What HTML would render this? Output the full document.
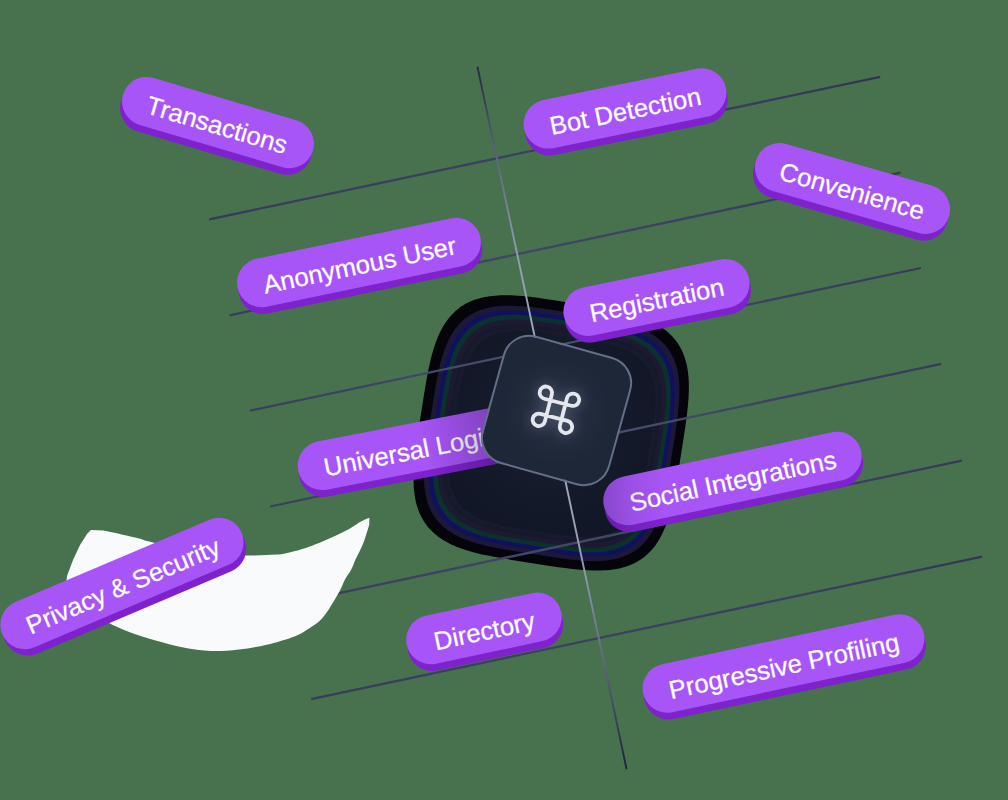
<!DOCTYPE html>
<html><head><meta charset="utf-8"><style>
html,body{margin:0;padding:0;}
body{width:1008px;height:800px;overflow:hidden;background:#48724e;position:relative;font-family:"Liberation Sans",sans-serif;}
svg.layer{position:absolute;left:0;top:0;}
.pill{position:absolute;height:49px;line-height:54px;border-radius:24.5px;background:#a855f7;color:#fff;font-size:25.6px;text-align:center;white-space:nowrap;box-shadow:0 7px 0 #7e22ce;-webkit-text-stroke:0.25px #fff;transform-origin:50% 50%;}
.pill.ul::after,.pill.si::after{content:'';position:absolute;left:0;top:0;right:0;bottom:-7px;border-radius:24.5px;}
.pill.ul::after{background:linear-gradient(90deg,rgba(14,14,34,0) 55%,rgba(14,14,34,0.2) 80%,rgba(14,14,34,0.4) 100%);}
.pill.si::after{background:linear-gradient(100deg,rgba(14,14,34,0.22) 0,rgba(14,14,34,0.08) 12%,rgba(14,14,34,0) 25%);}
.box{position:absolute;left:490.1px;top:343.5px;width:133px;height:133px;border-radius:27px;box-sizing:border-box;border:2px solid #647088;background:radial-gradient(circle at 50% 50%, #2c3547 0, #232c3d 30%, #1e2738 60%);transform:rotate(15.5deg);}
</style></head><body>
<svg class="layer" width="1008" height="800" viewBox="0 0 1008 800">
<defs>
<radialGradient id="blobg" cx="553" cy="420" r="130" gradientUnits="userSpaceOnUse"><stop offset="0" stop-color="#1c2334"/><stop offset="0.55" stop-color="#141a2a"/><stop offset="1" stop-color="#111626"/></radialGradient>
<radialGradient id="lg" cx="556" cy="410" r="520" gradientUnits="userSpaceOnUse"><stop offset="0" stop-color="#4a5270"/><stop offset="0.2" stop-color="#444c6a"/><stop offset="0.35" stop-color="#3c4462"/><stop offset="0.7" stop-color="#373d5a"/><stop offset="1" stop-color="#2c3049"/></radialGradient>
<radialGradient id="lv" cx="556" cy="410" r="370" gradientUnits="userSpaceOnUse"><stop offset="0" stop-color="#b0b5c5"/><stop offset="0.45" stop-color="#9098b0"/><stop offset="0.72" stop-color="#5a6078"/><stop offset="1" stop-color="#1a1e34"/></radialGradient>
</defs>
<path d="M681.22,453.26 L678.20,472.37 L676.81,480.77 L675.67,487.29 L674.64,492.81 L673.66,497.69 L672.70,502.10 L671.75,506.15 L670.80,509.91 L669.84,513.42 L668.87,516.72 L667.87,519.85 L666.85,522.80 L665.81,525.62 L664.73,528.30 L663.63,530.85 L662.49,533.29 L661.32,535.63 L660.12,537.86 L658.88,540.00 L657.60,542.05 L656.28,544.01 L654.93,545.89 L653.54,547.69 L652.10,549.41 L650.62,551.05 L649.10,552.62 L647.54,554.12 L645.93,555.55 L644.27,556.91 L642.57,558.20 L640.82,559.43 L639.02,560.59 L637.17,561.68 L635.26,562.71 L633.30,563.68 L631.28,564.59 L629.21,565.43 L627.07,566.20 L624.87,566.92 L622.60,567.57 L620.26,568.16 L617.84,568.69 L615.35,569.15 L612.77,569.55 L610.09,569.89 L607.32,570.16 L604.44,570.36 L601.45,570.50 L598.32,570.57 L595.04,570.56 L591.60,570.48 L587.96,570.32 L584.09,570.08 L579.95,569.74 L575.45,569.30 L570.51,568.74 L564.93,568.04 L558.38,567.13 L549.96,565.89 L530.84,562.92 L511.73,559.90 L503.33,558.51 L496.81,557.37 L491.29,556.34 L486.41,555.36 L482.00,554.40 L477.95,553.45 L474.19,552.50 L470.68,551.54 L467.38,550.57 L464.25,549.57 L461.30,548.55 L458.48,547.51 L455.80,546.43 L453.25,545.33 L450.81,544.19 L448.47,543.02 L446.24,541.82 L444.10,540.58 L442.05,539.30 L440.09,537.98 L438.21,536.63 L436.41,535.24 L434.69,533.80 L433.05,532.32 L431.48,530.80 L429.98,529.24 L428.55,527.63 L427.19,525.97 L425.90,524.27 L424.67,522.52 L423.51,520.72 L422.42,518.87 L421.39,516.96 L420.42,515.00 L419.51,512.98 L418.67,510.91 L417.90,508.77 L417.18,506.57 L416.53,504.30 L415.94,501.96 L415.41,499.54 L414.95,497.05 L414.55,494.47 L414.21,491.79 L413.94,489.02 L413.74,486.14 L413.60,483.15 L413.53,480.02 L413.54,476.74 L413.62,473.30 L413.78,469.66 L414.02,465.79 L414.36,461.65 L414.80,457.15 L415.36,452.21 L416.06,446.63 L416.97,440.08 L418.21,431.66 L421.18,412.54 L424.20,393.43 L425.59,385.03 L426.73,378.51 L427.76,372.99 L428.74,368.11 L429.70,363.70 L430.65,359.65 L431.60,355.89 L432.56,352.38 L433.53,349.08 L434.53,345.95 L435.55,343.00 L436.59,340.18 L437.67,337.50 L438.77,334.95 L439.91,332.51 L441.08,330.17 L442.28,327.94 L443.52,325.80 L444.80,323.75 L446.12,321.79 L447.47,319.91 L448.86,318.11 L450.30,316.39 L451.78,314.75 L453.30,313.18 L454.86,311.68 L456.47,310.25 L458.13,308.89 L459.83,307.60 L461.58,306.37 L463.38,305.21 L465.23,304.12 L467.14,303.09 L469.10,302.12 L471.12,301.21 L473.19,300.37 L475.33,299.60 L477.53,298.88 L479.80,298.23 L482.14,297.64 L484.56,297.11 L487.05,296.65 L489.63,296.25 L492.31,295.91 L495.08,295.64 L497.96,295.44 L500.95,295.30 L504.08,295.23 L507.36,295.24 L510.80,295.32 L514.44,295.48 L518.31,295.72 L522.45,296.06 L526.95,296.50 L531.89,297.06 L537.47,297.76 L544.02,298.67 L552.44,299.91 L571.56,302.88 L590.67,305.90 L599.07,307.29 L605.59,308.43 L611.11,309.46 L615.99,310.44 L620.40,311.40 L624.45,312.35 L628.21,313.30 L631.72,314.26 L635.02,315.23 L638.15,316.23 L641.10,317.25 L643.92,318.29 L646.60,319.37 L649.15,320.47 L651.59,321.61 L653.93,322.78 L656.16,323.98 L658.30,325.22 L660.35,326.50 L662.31,327.82 L664.19,329.17 L665.99,330.56 L667.71,332.00 L669.35,333.48 L670.92,335.00 L672.42,336.56 L673.85,338.17 L675.21,339.83 L676.50,341.53 L677.73,343.28 L678.89,345.08 L679.98,346.93 L681.01,348.84 L681.98,350.80 L682.89,352.82 L683.73,354.89 L684.50,357.03 L685.22,359.23 L685.87,361.50 L686.46,363.84 L686.99,366.26 L687.45,368.75 L687.85,371.33 L688.19,374.01 L688.46,376.78 L688.66,379.66 L688.80,382.65 L688.87,385.78 L688.86,389.06 L688.78,392.50 L688.62,396.14 L688.38,400.01 L688.04,404.15 L687.60,408.65 L687.04,413.59 L686.34,419.17 L685.43,425.72 L684.19,434.14Z" fill="#04040a"/><path d="M672.33,452.29 L669.53,470.02 L668.24,477.81 L667.19,483.86 L666.23,488.99 L665.32,493.51 L664.43,497.61 L663.55,501.36 L662.67,504.85 L661.78,508.11 L660.87,511.17 L659.95,514.07 L659.00,516.81 L658.03,519.42 L657.04,521.91 L656.01,524.28 L654.96,526.55 L653.87,528.71 L652.75,530.78 L651.60,532.77 L650.42,534.67 L649.20,536.49 L647.94,538.23 L646.65,539.90 L645.32,541.50 L643.95,543.02 L642.54,544.48 L641.08,545.87 L639.59,547.20 L638.06,548.46 L636.48,549.66 L634.85,550.79 L633.18,551.87 L631.46,552.89 L629.69,553.84 L627.87,554.74 L626.00,555.58 L624.08,556.36 L622.09,557.08 L620.05,557.74 L617.94,558.35 L615.77,558.90 L613.53,559.39 L611.22,559.82 L608.82,560.19 L606.34,560.50 L603.77,560.75 L601.10,560.94 L598.32,561.07 L595.42,561.13 L592.38,561.12 L589.18,561.05 L585.81,560.90 L582.22,560.67 L578.37,560.36 L574.20,559.95 L569.61,559.44 L564.44,558.78 L558.36,557.94 L550.55,556.79 L532.81,554.03 L515.08,551.23 L507.29,549.94 L501.24,548.89 L496.11,547.93 L491.59,547.02 L487.49,546.13 L483.74,545.25 L480.25,544.37 L476.99,543.48 L473.93,542.57 L471.03,541.65 L468.29,540.70 L465.68,539.73 L463.19,538.74 L460.82,537.71 L458.55,536.66 L456.39,535.57 L454.32,534.45 L452.33,533.30 L450.43,532.12 L448.61,530.90 L446.87,529.64 L445.20,528.35 L443.60,527.02 L442.08,525.65 L440.62,524.24 L439.23,522.78 L437.90,521.29 L436.64,519.76 L435.44,518.18 L434.31,516.55 L433.23,514.88 L432.21,513.16 L431.26,511.39 L430.36,509.57 L429.52,507.70 L428.74,505.78 L428.02,503.79 L427.36,501.75 L426.75,499.64 L426.20,497.47 L425.71,495.23 L425.28,492.92 L424.91,490.52 L424.60,488.04 L424.35,485.47 L424.16,482.80 L424.03,480.02 L423.97,477.12 L423.98,474.08 L424.05,470.88 L424.20,467.51 L424.43,463.92 L424.74,460.07 L425.15,455.90 L425.66,451.31 L426.32,446.14 L427.16,440.06 L428.31,432.25 L431.07,414.51 L433.87,396.78 L435.16,388.99 L436.21,382.94 L437.17,377.81 L438.08,373.29 L438.97,369.19 L439.85,365.44 L440.73,361.95 L441.62,358.69 L442.53,355.63 L443.45,352.73 L444.40,349.99 L445.37,347.38 L446.36,344.89 L447.39,342.52 L448.44,340.25 L449.53,338.09 L450.65,336.02 L451.80,334.03 L452.98,332.13 L454.20,330.31 L455.46,328.57 L456.75,326.90 L458.08,325.30 L459.45,323.78 L460.86,322.32 L462.32,320.93 L463.81,319.60 L465.34,318.34 L466.92,317.14 L468.55,316.01 L470.22,314.93 L471.94,313.91 L473.71,312.96 L475.53,312.06 L477.40,311.22 L479.32,310.44 L481.31,309.72 L483.35,309.06 L485.46,308.45 L487.63,307.90 L489.87,307.41 L492.18,306.98 L494.58,306.61 L497.06,306.30 L499.63,306.05 L502.30,305.86 L505.08,305.73 L507.98,305.67 L511.02,305.68 L514.22,305.75 L517.59,305.90 L521.18,306.13 L525.03,306.44 L529.20,306.85 L533.79,307.36 L538.96,308.02 L545.04,308.86 L552.85,310.01 L570.59,312.77 L588.32,315.57 L596.11,316.86 L602.16,317.91 L607.29,318.87 L611.81,319.78 L615.91,320.67 L619.66,321.55 L623.15,322.43 L626.41,323.32 L629.47,324.23 L632.37,325.15 L635.11,326.10 L637.72,327.07 L640.21,328.06 L642.58,329.09 L644.85,330.14 L647.01,331.23 L649.08,332.35 L651.07,333.50 L652.97,334.68 L654.79,335.90 L656.53,337.16 L658.20,338.45 L659.80,339.78 L661.32,341.15 L662.78,342.56 L664.17,344.02 L665.50,345.51 L666.76,347.04 L667.96,348.62 L669.09,350.25 L670.17,351.92 L671.19,353.64 L672.14,355.41 L673.04,357.23 L673.88,359.10 L674.66,361.02 L675.38,363.01 L676.04,365.05 L676.65,367.16 L677.20,369.33 L677.69,371.57 L678.12,373.88 L678.49,376.28 L678.80,378.76 L679.05,381.33 L679.24,384.00 L679.37,386.78 L679.43,389.68 L679.42,392.72 L679.35,395.92 L679.20,399.29 L678.97,402.88 L678.66,406.73 L678.25,410.90 L677.74,415.49 L677.08,420.66 L676.24,426.74 L675.09,434.55Z" fill="#1c1838"/><path d="M667.98,451.69 L665.29,468.77 L664.05,476.27 L663.03,482.10 L662.11,487.04 L661.23,491.40 L660.38,495.34 L659.53,498.96 L658.68,502.32 L657.82,505.45 L656.95,508.41 L656.06,511.20 L655.15,513.84 L654.22,516.35 L653.26,518.75 L652.27,521.03 L651.25,523.21 L650.21,525.30 L649.13,527.30 L648.02,529.21 L646.88,531.04 L645.70,532.79 L644.49,534.47 L643.25,536.07 L641.97,537.61 L640.65,539.08 L639.29,540.49 L637.89,541.82 L636.45,543.10 L634.97,544.32 L633.45,545.47 L631.89,546.57 L630.28,547.60 L628.62,548.58 L626.92,549.50 L625.17,550.37 L623.36,551.18 L621.51,551.93 L619.60,552.62 L617.63,553.26 L615.60,553.85 L613.51,554.37 L611.35,554.84 L609.12,555.26 L606.82,555.62 L604.43,555.92 L601.95,556.16 L599.38,556.34 L596.70,556.46 L593.91,556.52 L590.98,556.52 L587.90,556.44 L584.65,556.30 L581.19,556.08 L577.49,555.78 L573.47,555.39 L569.05,554.89 L564.07,554.26 L558.21,553.45 L550.69,552.34 L533.61,549.68 L516.53,546.99 L509.03,545.75 L503.20,544.73 L498.26,543.81 L493.90,542.93 L489.96,542.08 L486.34,541.23 L482.98,540.38 L479.85,539.52 L476.89,538.65 L474.10,537.76 L471.46,536.85 L468.95,535.92 L466.55,534.96 L464.27,533.97 L462.09,532.95 L460.00,531.91 L458.00,530.83 L456.09,529.72 L454.26,528.58 L452.51,527.40 L450.83,526.19 L449.23,524.95 L447.69,523.67 L446.22,522.35 L444.81,520.99 L443.48,519.59 L442.20,518.15 L440.98,516.67 L439.83,515.15 L438.73,513.59 L437.70,511.98 L436.72,510.32 L435.80,508.62 L434.93,506.87 L434.12,505.06 L433.37,503.21 L432.68,501.30 L432.04,499.33 L431.45,497.30 L430.93,495.21 L430.46,493.05 L430.04,490.82 L429.68,488.52 L429.38,486.13 L429.14,483.65 L428.96,481.08 L428.84,478.40 L428.78,475.61 L428.78,472.68 L428.86,469.60 L429.00,466.35 L429.22,462.89 L429.52,459.19 L429.91,455.17 L430.41,450.75 L431.04,445.77 L431.85,439.91 L432.96,432.39 L435.62,415.31 L438.31,398.23 L439.55,390.73 L440.57,384.90 L441.49,379.96 L442.37,375.60 L443.22,371.66 L444.07,368.04 L444.92,364.68 L445.78,361.55 L446.65,358.59 L447.54,355.80 L448.45,353.16 L449.38,350.65 L450.34,348.25 L451.33,345.97 L452.35,343.79 L453.39,341.70 L454.47,339.70 L455.58,337.79 L456.72,335.96 L457.90,334.21 L459.11,332.53 L460.35,330.93 L461.63,329.39 L462.95,327.92 L464.31,326.51 L465.71,325.18 L467.15,323.90 L468.63,322.68 L470.15,321.53 L471.71,320.43 L473.32,319.40 L474.98,318.42 L476.68,317.50 L478.43,316.63 L480.24,315.82 L482.09,315.07 L484.00,314.38 L485.97,313.74 L488.00,313.15 L490.09,312.63 L492.25,312.16 L494.48,311.74 L496.78,311.38 L499.17,311.08 L501.65,310.84 L504.22,310.66 L506.90,310.54 L509.69,310.48 L512.62,310.48 L515.70,310.56 L518.95,310.70 L522.41,310.92 L526.11,311.22 L530.13,311.61 L534.55,312.11 L539.53,312.74 L545.39,313.55 L552.91,314.66 L569.99,317.32 L587.07,320.01 L594.57,321.25 L600.40,322.27 L605.34,323.19 L609.70,324.07 L613.64,324.92 L617.26,325.77 L620.62,326.62 L623.75,327.48 L626.71,328.35 L629.50,329.24 L632.14,330.15 L634.65,331.08 L637.05,332.04 L639.33,333.03 L641.51,334.05 L643.60,335.09 L645.60,336.17 L647.51,337.28 L649.34,338.42 L651.09,339.60 L652.77,340.81 L654.37,342.05 L655.91,343.33 L657.38,344.65 L658.79,346.01 L660.12,347.41 L661.40,348.85 L662.62,350.33 L663.77,351.85 L664.87,353.41 L665.90,355.02 L666.88,356.68 L667.80,358.38 L668.67,360.13 L669.48,361.94 L670.23,363.79 L670.92,365.70 L671.56,367.67 L672.15,369.70 L672.67,371.79 L673.14,373.95 L673.56,376.18 L673.92,378.48 L674.22,380.87 L674.46,383.35 L674.64,385.92 L674.76,388.60 L674.82,391.39 L674.82,394.32 L674.74,397.40 L674.60,400.65 L674.38,404.11 L674.08,407.81 L673.69,411.83 L673.19,416.25 L672.56,421.23 L671.75,427.09 L670.64,434.61Z" fill="#11105f"/><path d="M664.13,451.18 L661.53,467.67 L660.33,474.92 L659.35,480.55 L658.45,485.32 L657.61,489.53 L656.78,493.34 L655.97,496.83 L655.15,500.07 L654.32,503.11 L653.47,505.96 L652.61,508.65 L651.73,511.21 L650.83,513.63 L649.90,515.95 L648.95,518.15 L647.97,520.26 L646.96,522.28 L645.92,524.20 L644.85,526.05 L643.75,527.82 L642.61,529.51 L641.44,531.13 L640.24,532.69 L639.00,534.17 L637.72,535.59 L636.41,536.95 L635.06,538.24 L633.67,539.47 L632.24,540.65 L630.77,541.76 L629.26,542.82 L627.71,543.82 L626.11,544.77 L624.46,545.66 L622.77,546.49 L621.03,547.27 L619.24,548.00 L617.39,548.67 L615.49,549.29 L613.53,549.85 L611.51,550.36 L609.43,550.82 L607.27,551.22 L605.04,551.56 L602.74,551.85 L600.35,552.09 L597.86,552.26 L595.27,552.38 L592.57,552.44 L589.74,552.43 L586.77,552.36 L583.63,552.22 L580.29,552.01 L576.71,551.72 L572.84,551.34 L568.57,550.86 L563.75,550.25 L558.10,549.47 L550.83,548.40 L534.32,545.83 L517.83,543.23 L510.58,542.03 L504.95,541.05 L500.18,540.15 L495.97,539.31 L492.16,538.48 L488.67,537.67 L485.43,536.85 L482.39,536.02 L479.54,535.17 L476.85,534.31 L474.29,533.43 L471.87,532.53 L469.55,531.60 L467.35,530.65 L465.24,529.67 L463.22,528.66 L461.30,527.62 L459.45,526.55 L457.68,525.45 L455.99,524.31 L454.37,523.14 L452.81,521.94 L451.33,520.70 L449.91,519.42 L448.55,518.11 L447.26,516.76 L446.03,515.37 L444.85,513.94 L443.74,512.47 L442.68,510.96 L441.68,509.41 L440.73,507.81 L439.84,506.16 L439.01,504.47 L438.23,502.73 L437.50,500.94 L436.83,499.09 L436.21,497.19 L435.65,495.23 L435.14,493.21 L434.68,491.13 L434.28,488.97 L433.94,486.74 L433.65,484.44 L433.41,482.05 L433.24,479.56 L433.12,476.97 L433.06,474.27 L433.07,471.44 L433.14,468.47 L433.28,465.33 L433.49,461.99 L433.78,458.41 L434.16,454.54 L434.64,450.27 L435.25,445.45 L436.03,439.80 L437.10,432.53 L439.67,416.02 L442.27,399.53 L443.47,392.28 L444.45,386.65 L445.35,381.88 L446.19,377.67 L447.02,373.86 L447.83,370.37 L448.65,367.13 L449.48,364.09 L450.33,361.24 L451.19,358.55 L452.07,355.99 L452.97,353.57 L453.90,351.25 L454.85,349.05 L455.83,346.94 L456.84,344.92 L457.88,343.00 L458.95,341.15 L460.05,339.38 L461.19,337.69 L462.36,336.07 L463.56,334.51 L464.80,333.03 L466.08,331.61 L467.39,330.25 L468.74,328.96 L470.13,327.73 L471.56,326.55 L473.03,325.44 L474.54,324.38 L476.09,323.38 L477.69,322.43 L479.34,321.54 L481.03,320.71 L482.77,319.93 L484.56,319.20 L486.41,318.53 L488.31,317.91 L490.27,317.35 L492.29,316.84 L494.37,316.38 L496.53,315.98 L498.76,315.64 L501.06,315.35 L503.45,315.11 L505.94,314.94 L508.53,314.82 L511.23,314.76 L514.06,314.77 L517.03,314.84 L520.17,314.98 L523.51,315.19 L527.09,315.48 L530.96,315.86 L535.23,316.34 L540.05,316.95 L545.70,317.73 L552.97,318.80 L569.48,321.37 L585.97,323.97 L593.22,325.17 L598.85,326.15 L603.62,327.05 L607.83,327.89 L611.64,328.72 L615.13,329.53 L618.37,330.35 L621.41,331.18 L624.26,332.03 L626.95,332.89 L629.51,333.77 L631.93,334.67 L634.25,335.60 L636.45,336.55 L638.56,337.53 L640.58,338.54 L642.50,339.58 L644.35,340.65 L646.12,341.75 L647.81,342.89 L649.43,344.06 L650.99,345.26 L652.47,346.50 L653.89,347.78 L655.25,349.09 L656.54,350.44 L657.77,351.83 L658.95,353.26 L660.06,354.73 L661.12,356.24 L662.12,357.79 L663.07,359.39 L663.96,361.04 L664.79,362.73 L665.57,364.47 L666.30,366.26 L666.97,368.11 L667.59,370.01 L668.15,371.97 L668.66,373.99 L669.12,376.07 L669.52,378.23 L669.86,380.46 L670.15,382.76 L670.39,385.15 L670.56,387.64 L670.68,390.23 L670.74,392.93 L670.73,395.76 L670.66,398.73 L670.52,401.87 L670.31,405.21 L670.02,408.79 L669.64,412.66 L669.16,416.93 L668.55,421.75 L667.77,427.40 L666.70,434.67Z" fill="#0b302d"/><path d="M659.79,450.58 L657.29,466.42 L656.14,473.38 L655.19,478.79 L654.33,483.37 L653.52,487.41 L652.73,491.07 L651.94,494.43 L651.16,497.54 L650.36,500.45 L649.55,503.19 L648.72,505.78 L647.88,508.23 L647.01,510.56 L646.12,512.79 L645.21,514.90 L644.26,516.93 L643.29,518.86 L642.30,520.72 L641.27,522.49 L640.21,524.19 L639.12,525.81 L637.99,527.37 L636.84,528.86 L635.65,530.29 L634.42,531.65 L633.16,532.95 L631.87,534.20 L630.53,535.38 L629.16,536.51 L627.75,537.58 L626.30,538.60 L624.81,539.56 L623.27,540.46 L621.69,541.32 L620.06,542.12 L618.39,542.87 L616.67,543.57 L614.90,544.21 L613.07,544.81 L611.19,545.35 L609.25,545.84 L607.25,546.27 L605.18,546.66 L603.04,546.99 L600.82,547.27 L598.53,547.49 L596.14,547.66 L593.66,547.77 L591.06,547.83 L588.35,547.82 L585.49,547.76 L582.47,547.62 L579.27,547.42 L575.83,547.14 L572.11,546.78 L568.01,546.32 L563.38,545.73 L557.95,544.98 L550.97,543.95 L535.12,541.49 L519.28,538.99 L512.32,537.84 L506.91,536.89 L502.33,536.03 L498.29,535.22 L494.63,534.43 L491.27,533.64 L488.16,532.86 L485.25,532.06 L482.51,531.25 L479.92,530.42 L477.47,529.58 L475.14,528.71 L472.91,527.82 L470.80,526.91 L468.77,525.96 L466.84,524.99 L464.98,524.00 L463.21,522.97 L461.51,521.91 L459.89,520.82 L458.33,519.69 L456.84,518.54 L455.41,517.35 L454.05,516.12 L452.75,514.86 L451.50,513.57 L450.32,512.23 L449.19,510.86 L448.12,509.45 L447.10,508.00 L446.14,506.51 L445.24,504.97 L444.38,503.39 L443.58,501.76 L442.83,500.09 L442.13,498.37 L441.49,496.60 L440.89,494.77 L440.35,492.89 L439.86,490.95 L439.43,488.95 L439.04,486.88 L438.71,484.74 L438.43,482.52 L438.21,480.23 L438.04,477.84 L437.93,475.36 L437.87,472.76 L437.88,470.05 L437.94,467.19 L438.08,464.17 L438.28,460.97 L438.56,457.53 L438.92,453.81 L439.38,449.71 L439.97,445.08 L440.72,439.65 L441.75,432.67 L444.21,416.82 L446.71,400.98 L447.86,394.02 L448.81,388.61 L449.67,384.03 L450.48,379.99 L451.27,376.33 L452.06,372.97 L452.84,369.86 L453.64,366.95 L454.45,364.21 L455.28,361.62 L456.12,359.17 L456.99,356.84 L457.88,354.61 L458.79,352.50 L459.74,350.47 L460.71,348.54 L461.70,346.68 L462.73,344.91 L463.79,343.21 L464.88,341.59 L466.01,340.03 L467.16,338.54 L468.35,337.11 L469.58,335.75 L470.84,334.45 L472.13,333.20 L473.47,332.02 L474.84,330.89 L476.25,329.82 L477.70,328.80 L479.19,327.84 L480.73,326.94 L482.31,326.08 L483.94,325.28 L485.61,324.53 L487.33,323.83 L489.10,323.19 L490.93,322.59 L492.81,322.05 L494.75,321.56 L496.75,321.13 L498.82,320.74 L500.96,320.41 L503.18,320.13 L505.47,319.91 L507.86,319.74 L510.34,319.63 L512.94,319.57 L515.65,319.58 L518.51,319.64 L521.53,319.78 L524.73,319.98 L528.17,320.26 L531.89,320.62 L535.99,321.08 L540.62,321.67 L546.05,322.42 L553.03,323.45 L568.88,325.91 L584.72,328.41 L591.68,329.56 L597.09,330.51 L601.67,331.37 L605.71,332.18 L609.37,332.97 L612.73,333.76 L615.84,334.54 L618.75,335.34 L621.49,336.15 L624.08,336.98 L626.53,337.82 L628.86,338.69 L631.09,339.58 L633.20,340.49 L635.23,341.44 L637.16,342.41 L639.02,343.40 L640.79,344.43 L642.49,345.49 L644.11,346.58 L645.67,347.71 L647.16,348.86 L648.59,350.05 L649.95,351.28 L651.25,352.54 L652.50,353.83 L653.68,355.17 L654.81,356.54 L655.88,357.95 L656.90,359.40 L657.86,360.89 L658.76,362.43 L659.62,364.01 L660.42,365.64 L661.17,367.31 L661.87,369.03 L662.51,370.80 L663.11,372.63 L663.65,374.51 L664.14,376.45 L664.57,378.45 L664.96,380.52 L665.29,382.66 L665.57,384.88 L665.79,387.17 L665.96,389.56 L666.07,392.04 L666.13,394.64 L666.12,397.35 L666.06,400.21 L665.92,403.23 L665.72,406.43 L665.44,409.87 L665.08,413.59 L664.62,417.69 L664.03,422.32 L663.28,427.75 L662.25,434.73Z" fill="#1d1931"/><path d="M655.44,449.98 L653.04,465.17 L651.94,471.85 L651.03,477.03 L650.21,481.42 L649.43,485.30 L648.67,488.80 L647.92,492.02 L647.17,495.01 L646.40,497.80 L645.63,500.43 L644.84,502.91 L644.02,505.26 L643.19,507.49 L642.34,509.62 L641.46,511.65 L640.56,513.60 L639.63,515.45 L638.67,517.23 L637.69,518.93 L636.67,520.55 L635.62,522.11 L634.55,523.61 L633.44,525.04 L632.30,526.40 L631.12,527.71 L629.92,528.96 L628.67,530.15 L627.39,531.29 L626.08,532.37 L624.73,533.39 L623.33,534.37 L621.90,535.29 L620.43,536.16 L618.92,536.98 L617.36,537.75 L615.75,538.47 L614.10,539.14 L612.40,539.75 L610.65,540.32 L608.85,540.84 L606.99,541.31 L605.07,541.73 L603.09,542.10 L601.03,542.42 L598.91,542.68 L596.71,542.90 L594.42,543.06 L592.04,543.17 L589.55,543.22 L586.95,543.22 L584.21,543.15 L581.32,543.03 L578.24,542.83 L574.95,542.56 L571.38,542.22 L567.45,541.77 L563.01,541.21 L557.80,540.49 L551.11,539.50 L535.92,537.14 L520.73,534.74 L514.05,533.64 L508.87,532.73 L504.48,531.91 L500.60,531.13 L497.10,530.37 L493.88,529.62 L490.89,528.87 L488.10,528.10 L485.47,527.33 L482.99,526.54 L480.64,525.72 L478.41,524.89 L476.28,524.04 L474.25,523.16 L472.30,522.26 L470.45,521.33 L468.67,520.37 L466.97,519.39 L465.35,518.37 L463.79,517.32 L462.29,516.25 L460.86,515.14 L459.50,514.00 L458.19,512.82 L456.94,511.62 L455.75,510.37 L454.61,509.09 L453.53,507.78 L452.51,506.43 L451.53,505.03 L450.61,503.60 L449.74,502.13 L448.92,500.62 L448.15,499.06 L447.43,497.45 L446.76,495.80 L446.15,494.10 L445.58,492.35 L445.06,490.55 L444.59,488.69 L444.17,486.77 L443.80,484.79 L443.48,482.73 L443.22,480.61 L443.00,478.41 L442.84,476.12 L442.73,473.74 L442.68,471.25 L442.68,468.65 L442.75,465.91 L442.87,463.02 L443.07,459.94 L443.34,456.65 L443.68,453.08 L444.13,449.15 L444.69,444.71 L445.41,439.50 L446.40,432.81 L448.76,417.62 L451.16,402.43 L452.26,395.75 L453.17,390.57 L453.99,386.18 L454.77,382.30 L455.53,378.80 L456.28,375.58 L457.03,372.59 L457.80,369.80 L458.57,367.17 L459.36,364.69 L460.18,362.34 L461.01,360.11 L461.86,357.98 L462.74,355.95 L463.64,354.00 L464.57,352.15 L465.53,350.37 L466.51,348.67 L467.53,347.05 L468.58,345.49 L469.65,343.99 L470.76,342.56 L471.90,341.20 L473.08,339.89 L474.28,338.64 L475.53,337.45 L476.81,336.31 L478.12,335.23 L479.47,334.21 L480.87,333.23 L482.30,332.31 L483.77,331.44 L485.28,330.62 L486.84,329.85 L488.45,329.13 L490.10,328.46 L491.80,327.85 L493.55,327.28 L495.35,326.76 L497.21,326.29 L499.13,325.87 L501.11,325.50 L503.17,325.18 L505.29,324.92 L507.49,324.70 L509.78,324.54 L512.16,324.43 L514.65,324.38 L517.25,324.38 L519.99,324.45 L522.88,324.57 L525.96,324.77 L529.25,325.04 L532.82,325.38 L536.75,325.83 L541.19,326.39 L546.40,327.11 L553.09,328.10 L568.28,330.46 L583.47,332.86 L590.15,333.96 L595.33,334.87 L599.72,335.69 L603.60,336.47 L607.10,337.23 L610.32,337.98 L613.31,338.73 L616.10,339.50 L618.73,340.27 L621.21,341.06 L623.56,341.88 L625.79,342.71 L627.92,343.56 L629.95,344.44 L631.90,345.34 L633.75,346.27 L635.53,347.23 L637.23,348.21 L638.85,349.23 L640.41,350.28 L641.91,351.35 L643.34,352.46 L644.70,353.60 L646.01,354.78 L647.26,355.98 L648.45,357.23 L649.59,358.51 L650.67,359.82 L651.69,361.17 L652.67,362.57 L653.59,364.00 L654.46,365.47 L655.28,366.98 L656.05,368.54 L656.77,370.15 L657.44,371.80 L658.05,373.50 L658.62,375.25 L659.14,377.05 L659.61,378.91 L660.03,380.83 L660.40,382.81 L660.72,384.87 L660.98,386.99 L661.20,389.19 L661.36,391.48 L661.47,393.86 L661.52,396.35 L661.52,398.95 L661.45,401.69 L661.33,404.58 L661.13,407.66 L660.86,410.95 L660.52,414.52 L660.07,418.45 L659.51,422.89 L658.79,428.10 L657.80,434.79Z" fill="#151a2b"/><path d="M652.58,449.62 L650.25,464.37 L649.18,470.86 L648.30,475.89 L647.50,480.15 L646.74,483.92 L646.00,487.33 L645.27,490.45 L644.54,493.35 L643.80,496.07 L643.04,498.62 L642.28,501.03 L641.49,503.31 L640.68,505.48 L639.85,507.55 L639.00,509.52 L638.12,511.41 L637.22,513.21 L636.29,514.93 L635.33,516.59 L634.34,518.17 L633.33,519.68 L632.28,521.13 L631.21,522.52 L630.10,523.85 L628.96,525.12 L627.78,526.33 L626.58,527.49 L625.33,528.59 L624.06,529.64 L622.74,530.64 L621.39,531.58 L620.00,532.48 L618.57,533.33 L617.10,534.12 L615.59,534.87 L614.03,535.57 L612.42,536.21 L610.77,536.82 L609.07,537.37 L607.32,537.87 L605.51,538.33 L603.65,538.73 L601.72,539.09 L599.73,539.40 L597.67,539.66 L595.53,539.87 L593.31,540.03 L590.99,540.13 L588.58,540.18 L586.05,540.18 L583.39,540.12 L580.58,539.99 L577.59,539.80 L574.39,539.55 L570.92,539.21 L567.11,538.78 L562.80,538.23 L557.74,537.53 L551.24,536.57 L536.48,534.28 L521.73,531.95 L515.24,530.88 L510.21,530.00 L505.95,529.20 L502.18,528.44 L498.77,527.70 L495.65,526.97 L492.75,526.24 L490.03,525.50 L487.48,524.74 L485.07,523.98 L482.79,523.19 L480.62,522.38 L478.55,521.55 L476.58,520.70 L474.69,519.82 L472.89,518.92 L471.17,517.99 L469.51,517.03 L467.93,516.04 L466.42,515.03 L464.97,513.98 L463.58,512.91 L462.25,511.80 L460.98,510.66 L459.77,509.48 L458.61,508.28 L457.51,507.03 L456.46,505.76 L455.46,504.44 L454.52,503.09 L453.62,501.70 L452.77,500.27 L451.98,498.80 L451.23,497.29 L450.53,495.73 L449.89,494.12 L449.28,492.47 L448.73,490.77 L448.23,489.02 L447.77,487.21 L447.37,485.35 L447.01,483.42 L446.70,481.43 L446.44,479.37 L446.23,477.23 L446.07,475.01 L445.97,472.69 L445.92,470.28 L445.92,467.75 L445.98,465.09 L446.11,462.28 L446.30,459.29 L446.55,456.09 L446.89,452.62 L447.32,448.81 L447.87,444.50 L448.57,439.44 L449.53,432.94 L451.82,418.18 L454.15,403.43 L455.22,396.94 L456.10,391.91 L456.90,387.65 L457.66,383.88 L458.40,380.47 L459.13,377.35 L459.86,374.45 L460.60,371.73 L461.36,369.18 L462.12,366.77 L462.91,364.49 L463.72,362.32 L464.55,360.25 L465.40,358.28 L466.28,356.39 L467.18,354.59 L468.11,352.87 L469.07,351.21 L470.06,349.63 L471.07,348.12 L472.12,346.67 L473.19,345.28 L474.30,343.95 L475.44,342.68 L476.62,341.47 L477.82,340.31 L479.07,339.21 L480.34,338.16 L481.66,337.16 L483.01,336.22 L484.40,335.32 L485.83,334.47 L487.30,333.68 L488.81,332.93 L490.37,332.23 L491.98,331.59 L493.63,330.98 L495.33,330.43 L497.08,329.93 L498.89,329.47 L500.75,329.07 L502.68,328.71 L504.67,328.40 L506.73,328.14 L508.87,327.93 L511.09,327.77 L513.41,327.67 L515.82,327.62 L518.35,327.62 L521.01,327.68 L523.82,327.81 L526.81,328.00 L530.01,328.25 L533.48,328.59 L537.29,329.02 L541.60,329.57 L546.66,330.27 L553.16,331.23 L567.92,333.52 L582.67,335.85 L589.16,336.92 L594.19,337.80 L598.45,338.60 L602.22,339.36 L605.63,340.10 L608.75,340.83 L611.65,341.56 L614.37,342.30 L616.92,343.06 L619.33,343.82 L621.61,344.61 L623.78,345.42 L625.85,346.25 L627.82,347.10 L629.71,347.98 L631.51,348.88 L633.23,349.81 L634.89,350.77 L636.47,351.76 L637.98,352.77 L639.43,353.82 L640.82,354.89 L642.15,356.00 L643.42,357.14 L644.63,358.32 L645.79,359.52 L646.89,360.77 L647.94,362.04 L648.94,363.36 L649.88,364.71 L650.78,366.10 L651.63,367.53 L652.42,369.00 L653.17,370.51 L653.87,372.07 L654.51,373.68 L655.12,375.33 L655.67,377.03 L656.17,378.78 L656.63,380.59 L657.03,382.45 L657.39,384.38 L657.70,386.37 L657.96,388.43 L658.17,390.57 L658.33,392.79 L658.43,395.11 L658.48,397.52 L658.48,400.05 L658.42,402.71 L658.29,405.52 L658.10,408.51 L657.85,411.71 L657.51,415.18 L657.08,418.99 L656.53,423.30 L655.83,428.36 L654.87,434.86Z" fill="#181a2d"/><path d="M649.61,449.15 L647.35,463.47 L646.31,469.76 L645.46,474.65 L644.68,478.79 L643.95,482.44 L643.23,485.75 L642.52,488.78 L641.81,491.60 L641.09,494.23 L640.36,496.70 L639.62,499.04 L638.85,501.26 L638.07,503.37 L637.26,505.37 L636.44,507.29 L635.58,509.12 L634.71,510.87 L633.81,512.54 L632.88,514.14 L631.92,515.68 L630.93,517.15 L629.92,518.56 L628.87,519.90 L627.80,521.19 L626.69,522.42 L625.55,523.60 L624.38,524.72 L623.18,525.79 L621.94,526.81 L620.66,527.78 L619.35,528.70 L618.00,529.57 L616.61,530.39 L615.18,531.16 L613.71,531.89 L612.20,532.56 L610.65,533.19 L609.04,533.78 L607.39,534.31 L605.69,534.80 L603.94,535.24 L602.13,535.64 L600.26,535.99 L598.33,536.29 L596.32,536.54 L594.25,536.74 L592.09,536.89 L589.85,537.00 L587.50,537.05 L585.05,537.04 L582.47,536.98 L579.74,536.86 L576.84,536.68 L573.74,536.43 L570.37,536.10 L566.67,535.68 L562.49,535.15 L557.58,534.47 L551.27,533.54 L536.95,531.31 L522.63,529.05 L516.34,528.01 L511.45,527.16 L507.31,526.38 L503.66,525.65 L500.35,524.93 L497.32,524.22 L494.50,523.51 L491.87,522.79 L489.40,522.06 L487.06,521.32 L484.84,520.55 L482.73,519.77 L480.73,518.96 L478.81,518.14 L476.98,517.28 L475.23,516.41 L473.56,515.51 L471.96,514.58 L470.42,513.62 L468.95,512.63 L467.54,511.62 L466.20,510.57 L464.91,509.50 L463.68,508.39 L462.50,507.25 L461.38,506.08 L460.31,504.88 L459.29,503.64 L458.32,502.36 L457.40,501.05 L456.53,499.70 L455.71,498.31 L454.94,496.88 L454.21,495.41 L453.54,493.90 L452.91,492.35 L452.32,490.74 L451.79,489.09 L451.30,487.39 L450.86,485.64 L450.46,483.83 L450.11,481.96 L449.81,480.03 L449.56,478.02 L449.36,475.95 L449.21,473.79 L449.10,471.55 L449.05,469.20 L449.06,466.75 L449.12,464.17 L449.24,461.44 L449.42,458.54 L449.67,455.44 L450.00,452.07 L450.42,448.37 L450.95,444.19 L451.63,439.28 L452.56,432.97 L454.79,418.65 L457.05,404.33 L458.09,398.04 L458.94,393.15 L459.72,389.01 L460.45,385.36 L461.17,382.05 L461.88,379.02 L462.59,376.20 L463.31,373.57 L464.04,371.10 L464.78,368.76 L465.55,366.54 L466.33,364.43 L467.14,362.43 L467.96,360.51 L468.82,358.68 L469.69,356.93 L470.59,355.26 L471.52,353.66 L472.48,352.12 L473.47,350.65 L474.48,349.24 L475.53,347.90 L476.60,346.61 L477.71,345.38 L478.85,344.20 L480.02,343.08 L481.22,342.01 L482.46,340.99 L483.74,340.02 L485.05,339.10 L486.40,338.23 L487.79,337.41 L489.22,336.64 L490.69,335.91 L492.20,335.24 L493.75,334.61 L495.36,334.02 L497.01,333.49 L498.71,333.00 L500.46,332.56 L502.27,332.16 L504.14,331.81 L506.07,331.51 L508.08,331.26 L510.15,331.06 L512.31,330.91 L514.55,330.80 L516.90,330.75 L519.35,330.76 L521.93,330.82 L524.66,330.94 L527.56,331.12 L530.66,331.37 L534.03,331.70 L537.73,332.12 L541.91,332.65 L546.82,333.33 L553.13,334.26 L567.45,336.49 L581.77,338.75 L588.06,339.79 L592.95,340.64 L597.09,341.42 L600.74,342.15 L604.05,342.87 L607.08,343.58 L609.90,344.29 L612.53,345.01 L615.00,345.74 L617.34,346.48 L619.56,347.25 L621.67,348.03 L623.67,348.84 L625.59,349.66 L627.42,350.52 L629.17,351.39 L630.84,352.29 L632.44,353.22 L633.98,354.18 L635.45,355.17 L636.86,356.18 L638.20,357.23 L639.49,358.30 L640.72,359.41 L641.90,360.55 L643.02,361.72 L644.09,362.92 L645.11,364.16 L646.08,365.44 L647.00,366.75 L647.87,368.10 L648.69,369.49 L649.46,370.92 L650.19,372.39 L650.86,373.90 L651.49,375.45 L652.08,377.06 L652.61,378.71 L653.10,380.41 L653.54,382.16 L653.94,383.97 L654.29,385.84 L654.59,387.77 L654.84,389.78 L655.04,391.85 L655.19,394.01 L655.30,396.25 L655.35,398.60 L655.34,401.05 L655.28,403.63 L655.16,406.36 L654.98,409.26 L654.73,412.36 L654.40,415.73 L653.98,419.43 L653.45,423.61 L652.77,428.52 L651.84,434.83Z" fill="url(#blobg)"/>
<g stroke="url(#lg)" stroke-width="2.3" fill="none"><line x1="209.2" y1="219.4" x2="880.2" y2="76.8"/><line x1="229.6" y1="315.3" x2="900.6" y2="172.7"/><line x1="249.9" y1="410.7" x2="920.9" y2="268.0"/><line x1="270.2" y1="506.5" x2="941.3" y2="363.9"/><line x1="290.8" y1="603.4" x2="961.8" y2="460.7"/><line x1="311.2" y1="699.2" x2="982.2" y2="556.6"/></g>
<g stroke="url(#lv)" stroke-width="1.9" fill="none"><line x1="477.4" y1="66.8" x2="626.6" y2="769.2"/></g>
<path d="M91,530 L103.0,530.5 C104.7,530.8 106.8,531.1 113.0,532.5 C119.2,533.9 133.7,537.2 140.0,538.8 C146.3,540.4 141.0,539.9 151.0,542.0 C161.0,544.1 184.3,549.3 200.0,551.5 C215.7,553.7 232.3,554.9 245.0,555.4 C257.7,555.9 268.6,555.1 276.0,554.6 C283.4,554.1 285.5,553.2 289.5,552.4 C293.5,551.6 296.8,550.7 300.0,549.8 C303.2,548.9 305.2,548.2 309.0,546.8 C312.8,545.4 318.0,543.4 322.5,541.5 C327.0,539.6 331.5,537.6 336.0,535.5 C340.5,533.4 345.2,531.2 349.5,528.8 C353.8,526.4 358.2,523.1 361.5,521.3 C364.8,519.5 368.1,518.4 369.4,517.8 L369.2,525.0 C368.4,527.5 366.0,535.8 364.5,540.0 C363.0,544.2 361.5,547.2 360.0,550.5 C358.5,553.8 357.0,556.2 355.5,559.5 C354.0,562.8 352.8,566.7 351.0,570.0 C349.2,573.3 346.8,576.2 345.0,579.5 C343.2,582.8 342.2,586.1 340.5,589.5 C338.8,592.9 336.8,596.2 334.5,600.0 C332.2,603.8 329.5,608.5 327.0,612.0 C324.5,615.5 322.5,618.2 319.5,621.0 C316.5,623.8 313.2,625.9 309.0,628.5 C304.8,631.1 301.4,633.7 294.4,636.4 C287.3,639.1 275.9,642.5 266.7,644.7 C257.4,646.9 248.2,648.4 238.9,649.4 C229.6,650.4 220.3,651.3 211.0,651.0 C201.7,650.7 192.5,649.2 183.3,647.5 C174.1,645.8 163.9,642.8 155.6,640.5 C147.3,638.2 139.8,635.9 133.3,633.6 C126.8,631.3 120.9,628.6 116.7,626.7 C112.5,624.9 112.8,625.3 108.3,622.5 C103.8,619.7 96.4,615.1 90.0,610.0 C83.6,604.9 73.3,595.0 70.0,592.0 L66,585 L67,576 L73,560 L80,545 L87,534 Z" fill="#f9fafc"/>
</svg>
<div class="pill ul" style="left:296.3px;top:423.9px;width:228.4px;transform:rotate(-11deg)">Universal Login</div>
<div class="box"></div>
<svg class="layer" width="1008" height="800" viewBox="0 0 1008 800">
<defs><filter id="glow" x="-50%" y="-50%" width="200%" height="200%"><feGaussianBlur stdDeviation="6"/></filter></defs>
<g transform="translate(555.9 409.8) rotate(14.5)"><path d="M7.8,-14 V14 A6.2 6.2 0 1 0 14,7.8 H-14 A6.2 6.2 0 1 0 -7.8,14 V-14 A6.2 6.2 0 1 0 -14,-7.8 H14 A6.2 6.2 0 1 0 7.8,-14" fill="none" stroke="#8a96b0" stroke-opacity="0.28" stroke-width="8" filter="url(#glow)"/><path d="M7.8,-14 V14 A6.2 6.2 0 1 0 14,7.8 H-14 A6.2 6.2 0 1 0 -7.8,14 V-14 A6.2 6.2 0 1 0 -14,-7.8 H14 A6.2 6.2 0 1 0 7.8,-14" fill="none" stroke="#e4e7ee" stroke-width="3.8" stroke-linecap="round" stroke-linejoin="round"/></g>
</svg>
<div class="pill" style="left:119.0px;top:97.8px;width:197.6px;transform:rotate(16.5deg)">Transactions</div>
<div class="pill" style="left:522.3px;top:83.5px;width:205.7px;transform:rotate(-11.5deg)">Bot Detection</div>
<div class="pill" style="left:751.5px;top:163.6px;width:201.4px;transform:rotate(16deg)">Convenience</div>
<div class="pill" style="left:235.0px;top:238.4px;width:248.3px;transform:rotate(-11.7deg)">Anonymous User</div>
<div class="pill" style="left:562.3px;top:273.0px;width:188.6px;transform:rotate(-11.5deg)">Registration</div>
<div class="pill si" style="left:600.7px;top:453.6px;width:262.6px;transform:rotate(-12deg)">Social Integrations</div>
<div class="pill" style="left:-7.8px;top:558.5px;width:259.7px;transform:rotate(-23deg)">Privacy &amp; Security</div>
<div class="pill" style="left:404.6px;top:603.8px;width:157.5px;transform:rotate(-12deg)">Directory</div>
<div class="pill" style="left:640.1px;top:638.5px;width:286.8px;transform:rotate(-12deg)">Progressive Profiling</div>
</body></html>
